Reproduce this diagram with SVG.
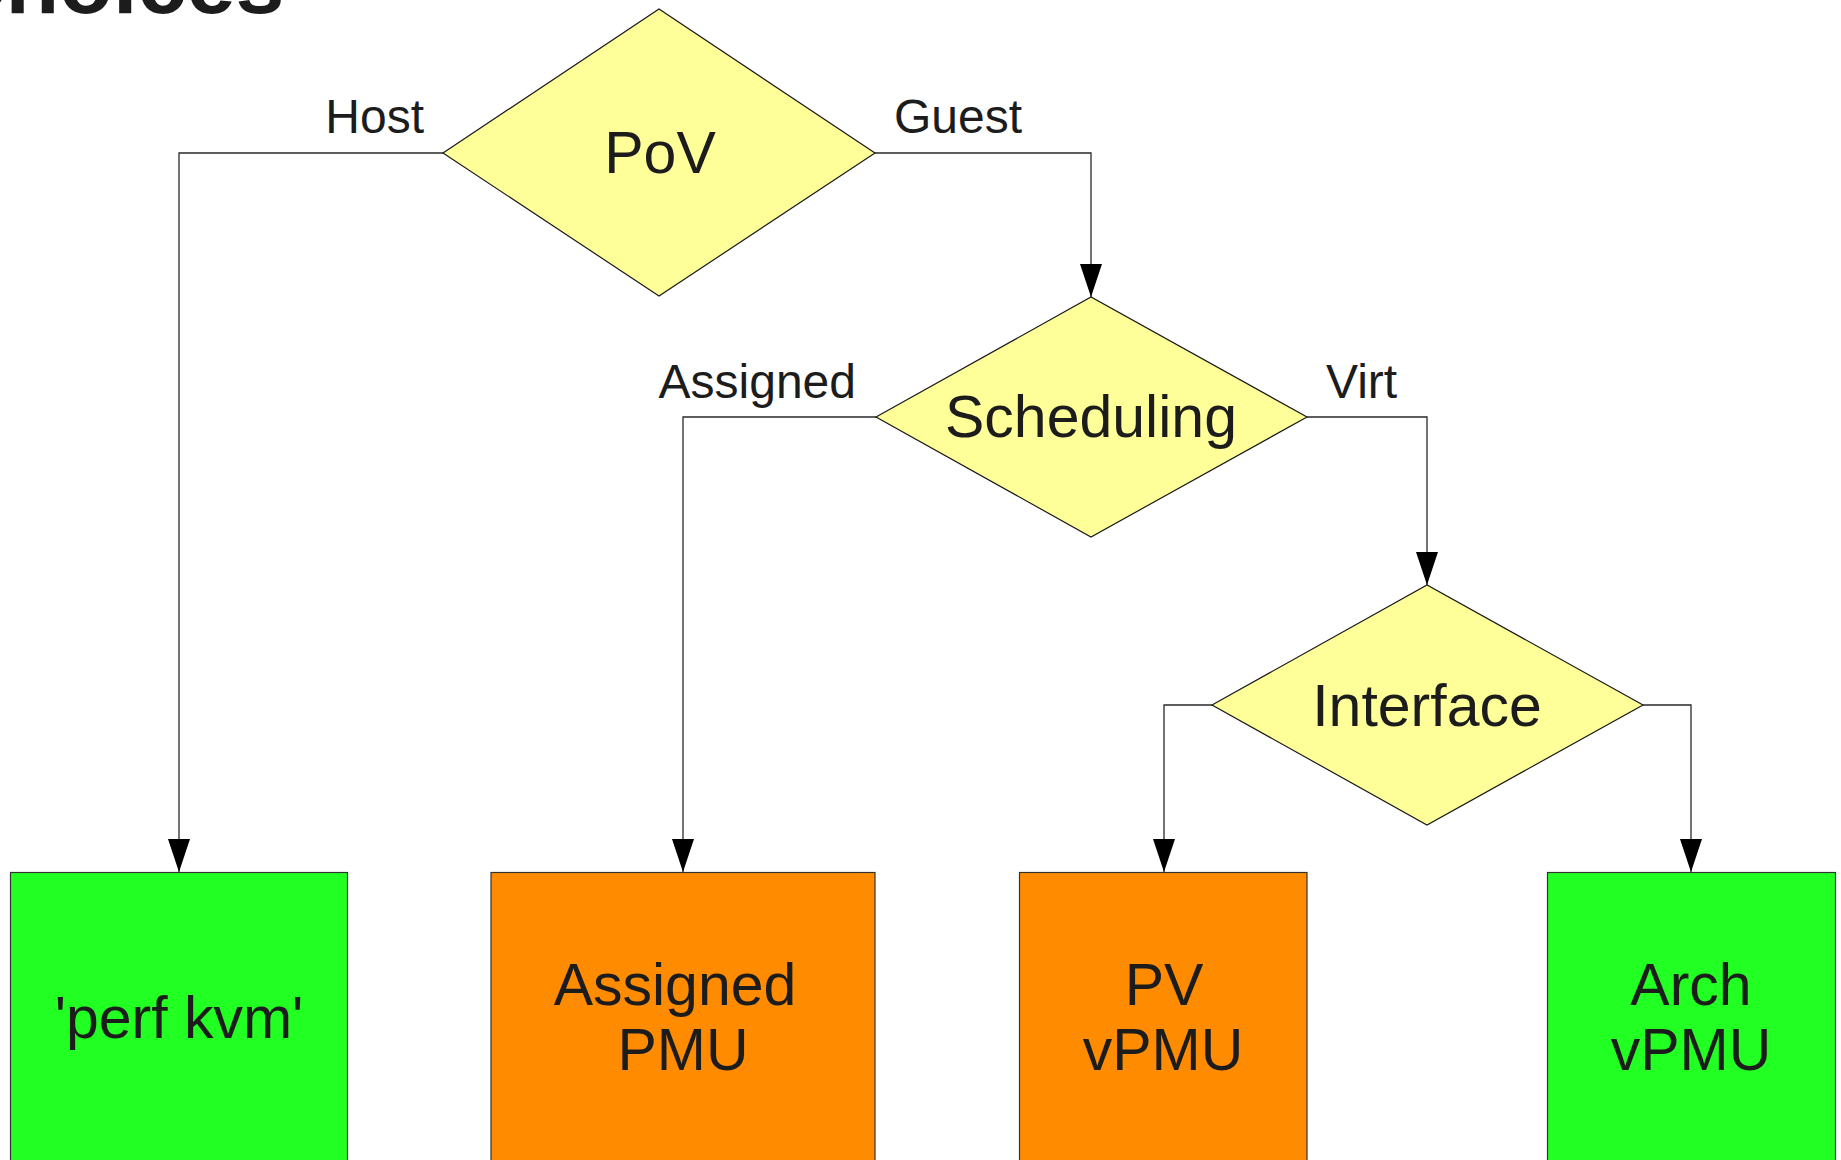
<svg xmlns="http://www.w3.org/2000/svg" width="1841" height="1160" viewBox="0 0 1841 1160">
  <style>
    text { font-family: "Liberation Sans", Arial, sans-serif; fill: #1c1c1c; }
    .title { font-weight: bold; font-size: 88px; }
    .lbl { font-size: 48px; }
    .node { font-size: 59px; text-anchor: middle; }
    .dec { fill: #ffff99; stroke: #1a1a1a; stroke-width: 1.2; }
    .green { fill: #22ff22; stroke: #333333; stroke-width: 1.2; }
    .orange { fill: #ff8c00; stroke: #333333; stroke-width: 1.2; }
    .conn { fill: none; stroke: #2a2a2a; stroke-width: 1.3; }
  </style>
  <defs>
    <marker id="arrow" viewBox="0 0 33 22" refX="33" refY="11" markerWidth="33" markerHeight="22" markerUnits="userSpaceOnUse" orient="auto">
      <path d="M0,0 L33,11 L0,22 Z" fill="#000000"/>
    </marker>
  </defs>
  <rect width="1841" height="1160" fill="#ffffff"/>

  <text class="title" x="-58" y="13">Choices</text>

  <g id="connectors">
    <path class="conn" d="M443,153 H179 V872" marker-end="url(#arrow)"/>
    <path class="conn" d="M875,153 H1091 V297" marker-end="url(#arrow)"/>
    <path class="conn" d="M876,417 H683 V872" marker-end="url(#arrow)"/>
    <path class="conn" d="M1307,417 H1427 V585" marker-end="url(#arrow)"/>
    <path class="conn" d="M1212,705 H1164 V872" marker-end="url(#arrow)"/>
    <path class="conn" d="M1643,705 H1691 V872" marker-end="url(#arrow)"/>
  </g>

  <g id="edge-labels">
    <text class="lbl" x="424" y="133" text-anchor="end">Host</text>
    <text class="lbl" x="894" y="133">Guest</text>
    <text class="lbl" x="856" y="398" text-anchor="end">Assigned</text>
    <text class="lbl" x="1326" y="398">Virt</text>
  </g>

  <g id="pov">
    <polygon class="dec" points="443,153 659,9 875,153 659,296"/>
    <text class="node" x="660" y="173">PoV</text>
  </g>

  <g id="scheduling">
    <polygon class="dec" points="876,417 1091,297 1307,417 1091,537"/>
    <text class="node" x="1091" y="437">Scheduling</text>
  </g>

  <g id="interface">
    <polygon class="dec" points="1212,705 1427,585 1643,705 1427,825"/>
    <text class="node" x="1427" y="726">Interface</text>
  </g>

  <g id="perf-kvm">
    <rect class="green" x="10.5" y="872.5" width="337" height="300"/>
    <text class="node" x="179" y="1038">'perf kvm'</text>
  </g>

  <g id="assigned-pmu">
    <rect class="orange" x="491" y="872.5" width="384" height="300"/>
    <text class="node" x="675" y="1005">Assigned</text>
    <text class="node" x="683" y="1070">PMU</text>
  </g>

  <g id="pv-vpmu">
    <rect class="orange" x="1019.5" y="872.5" width="287.5" height="300"/>
    <text class="node" x="1164" y="1005">PV</text>
    <text class="node" x="1163" y="1070">vPMU</text>
  </g>

  <g id="arch-vpmu">
    <rect class="green" x="1547.5" y="872.5" width="288" height="300"/>
    <text class="node" x="1691" y="1005">Arch</text>
    <text class="node" x="1691" y="1070">vPMU</text>
  </g>
</svg>
